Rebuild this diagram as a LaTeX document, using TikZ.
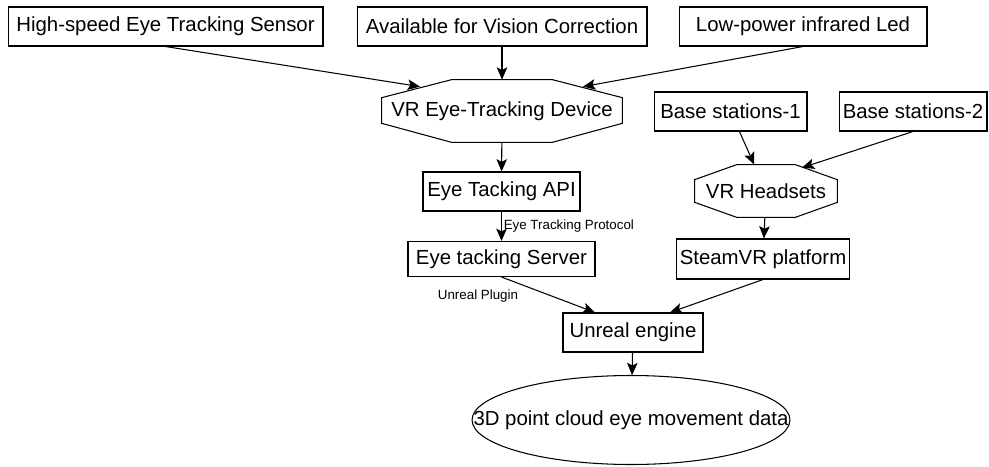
\documentclass[tikz,border=0pt]{standalone}
\usepackage{fontspec}
\setmainfont{Liberation Sans}
\usetikzlibrary{arrows.meta}

\tikzset{
  box/.style={draw, rectangle, line width=0.6pt, minimum height=0.78cm, inner sep=2pt},
  octbox/.style={rectangle, inner sep=2pt},
  octline/.style={line width=0.6pt, line join=miter},
  link/.style={line width=0.6pt, -{Stealth[length=7pt,width=6pt,inset=1.5pt]}},
  tag/.style={font=\fontsize{7.6}{9}\selectfont, inner sep=1pt},
}

\begin{document}
\begin{tikzpicture}[x=0.02cm, y=-0.02cm, font=\fontsize{11.6}{13}\selectfont]
  \useasboundingbox (0,0) rectangle (989,466);

  % top row: device features
  \node[box, minimum width=6.30cm] (sensor) at (165.5,26.5) {High-speed Eye Tracking Sensor};
  \node[box, minimum width=5.80cm] (vision) at (502,26.5) {Available for Vision Correction};
  \node[box, minimum width=4.96cm] (led) at (803,26.5) {Low-power infrared Led};

  % eye tracking branch
  \node[octbox, minimum width=4.80cm, minimum height=1.24cm] (device) at (502,111) {VR Eye-Tracking Device};
  \draw[octline] ([xshift=1.40cm]device.north west) -- ([xshift=-1.40cm]device.north east)
    -- ([yshift=-0.36cm]device.north east) -- ([yshift=0.38cm]device.south east)
    -- ([xshift=-1.40cm]device.south east) -- ([xshift=1.40cm]device.south west)
    -- ([yshift=0.38cm]device.south west) -- ([yshift=-0.36cm]device.north west) -- cycle;
  \node[box, minimum width=3.14cm] (api) at (501.5,191.5) {Eye Tacking API};
  \node[box, minimum width=3.74cm, minimum height=0.70cm] (server) at (501.5,259) {Eye tacking Server};

  % headset branch
  \node[box, minimum width=3.06cm] (base1) at (730.5,111.5) {Base stations-1};
  \node[box, minimum width=2.96cm] (base2) at (913,111.5) {Base stations-2};
  \node[octbox, minimum width=2.84cm, minimum height=1.04cm] (headsets) at (766,191) {VR Headsets};
  \draw[octline] ([xshift=0.84cm]headsets.north west) -- ([xshift=-0.84cm]headsets.north east)
    -- ([yshift=-0.30cm]headsets.north east) -- ([yshift=0.30cm]headsets.south east)
    -- ([xshift=-0.84cm]headsets.south east) -- ([xshift=0.84cm]headsets.south west)
    -- ([yshift=0.30cm]headsets.south west) -- ([yshift=-0.30cm]headsets.north west) -- cycle;
  \node[box, minimum width=3.36cm, minimum height=0.80cm] (steam) at (763,259) {SteamVR platform};

  % engine and output
  \node[box, minimum width=2.80cm] (engine) at (633,332.5) {Unreal engine};
  \node[octbox, minimum width=6.36cm, minimum height=1.78cm] (cloud) at (631,420) {3D point cloud eye movement data};
  \draw[line width=0.6pt] (cloud.center) ellipse [x radius=3.18cm, y radius=0.89cm];

  % connections
  \draw[link] (sensor.south) -- ([shift={(-1.64cm,-0.14cm)}]device.north);
  \draw[link] (vision) -- (device);
  \draw[link] (led.south) -- ([shift={(1.62cm,-0.14cm)}]device.north);
  \draw[link] (device) -- (api);
  \draw[link] (api) -- node[right, tag] {Eye Tracking Protocol} (server);
  \draw[link] (server.south) -- ([xshift=-0.76cm]engine.north);
  \node[tag] (plugin) at (478,296) {Unreal Plugin};
  \draw[link] (base1) -- (headsets);
  \draw[link] (base2.south) -- ([shift={(0.72cm,-0.06cm)}]headsets.north);
  \draw[link] (headsets) -- (steam);
  \draw[link] (steam.south) -- ([xshift=0.74cm]engine.north);
  \draw[link] (engine) -- (cloud);
\end{tikzpicture}
\end{document}
